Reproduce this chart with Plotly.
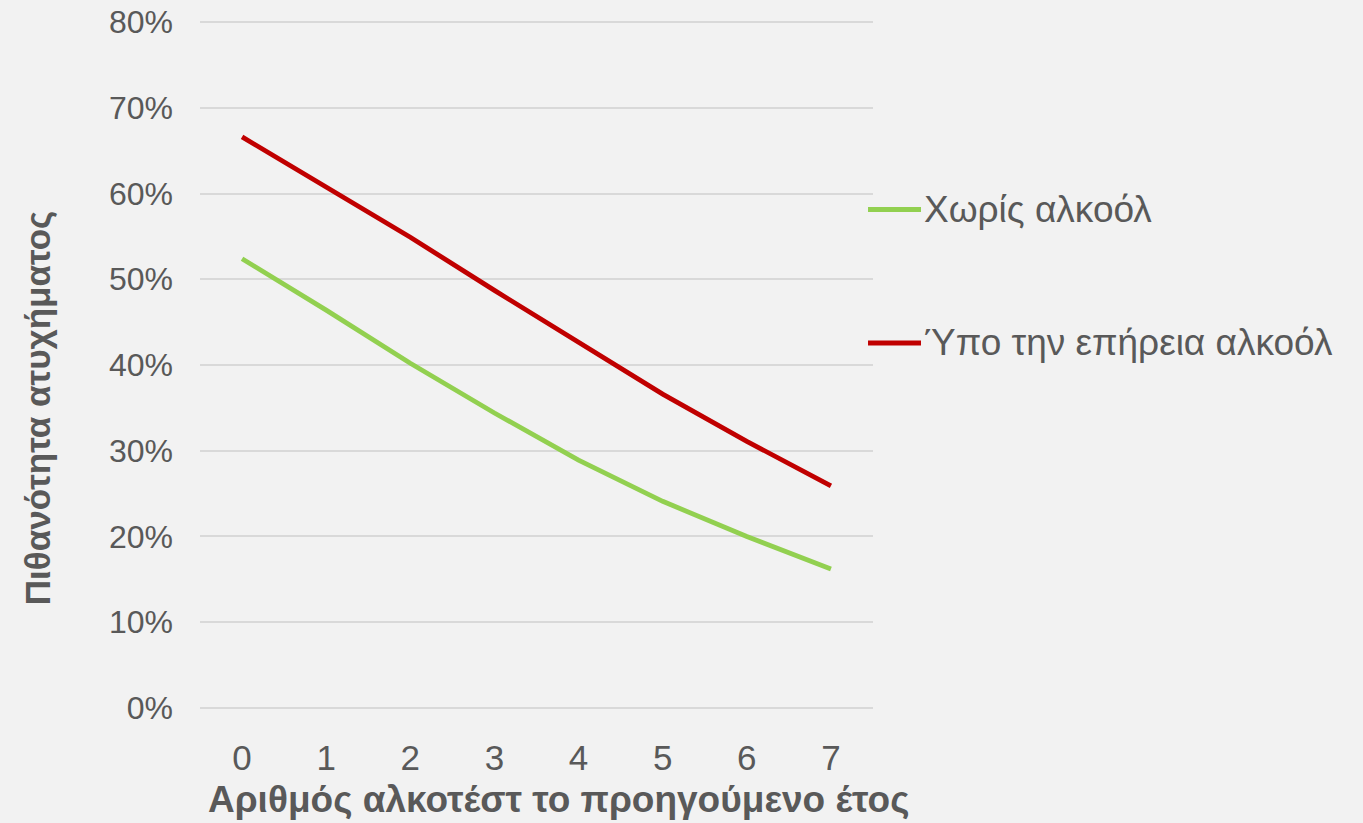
import plotly.graph_objects as go

# Number of breath tests in the previous year
tests = [0, 1, 2, 3, 4, 5, 6, 7]
tick_labels = ["0", "1", "2", "3", "4", "5", "6", "7"]

# Accident probability (fraction) for each group
no_alcohol = [0.524, 0.464, 0.402, 0.344, 0.289, 0.241, 0.200, 0.162]
under_influence = [0.666, 0.607, 0.549, 0.487, 0.427, 0.366, 0.311, 0.259]

series_names = ["Χωρίς αλκοόλ", "Ύπο την επήρεια αλκοόλ"]
series_colors = ["#92d050", "#c00000"]
y_ticks = [0, 0.1, 0.2, 0.3, 0.4, 0.5, 0.6, 0.7, 0.8]

x_title = "Αριθμός αλκοτέστ το προηγούμενο έτος"
y_title = "Πιθανότητα ατυχήματος"

FONT = "Liberation Sans, Arial, sans-serif"
TEXT = "#595959"

fig = go.Figure()
for name, vals, col in zip(series_names, [no_alcohol, under_influence], series_colors):
    fig.add_trace(go.Scatter(
        x=tests, y=vals, name=name, mode="lines",
        line=dict(color=col, width=4.8),
        showlegend=False,
    ))

# Legend drawn as line swatches with labels to the right of the plot
legend_y = [0.726, 0.532]
for name, col, ly in zip(series_names, series_colors, legend_y):
    fig.add_shape(type="line", xref="paper", yref="paper",
                  x0=0.9926, x1=1.0713, y0=ly, y1=ly,
                  line=dict(color=col, width=4.8))
    fig.add_annotation(xref="paper", yref="paper", x=1.073, y=ly,
                       text=name, showarrow=False, xanchor="left",
                       yanchor="middle",
                       font=dict(family=FONT, size=37, color=TEXT))

fig.add_annotation(xref="paper", yref="paper", x=0.533, y=-0.131,
                   text=f"<b>{x_title}</b>", showarrow=False,
                   xanchor="center", yanchor="middle",
                   font=dict(family=FONT, size=37, color=TEXT))
fig.add_annotation(xref="paper", yref="paper", x=-0.241, y=0.437,
                   text=f"<b>{y_title}</b>", showarrow=False, textangle=-90,
                   xanchor="center", yanchor="middle",
                   font=dict(family=FONT, size=35, color=TEXT))

fig.update_layout(
    width=1363, height=823,
    margin=dict(l=200, r=490, t=21, b=114, autoexpand=False),
    paper_bgcolor="#f2f2f2", plot_bgcolor="#f2f2f2",
    font=dict(family=FONT, color=TEXT),
    xaxis=dict(
        tickmode="array", tickvals=tests, ticktext=tick_labels,
        range=[-0.5, 7.5], showgrid=False, zeroline=False, showline=False,
        tickfont=dict(size=35, color=TEXT), ticks="", ticklabelstandoff=25,
        automargin=False,
    ),
    yaxis=dict(
        tickmode="array", tickvals=y_ticks,
        ticktext=[f"{int(round(v * 100))}%" for v in y_ticks],
        range=[-0.0012, 0.8012], showgrid=True, gridcolor="#d9d9d9",
        gridwidth=1.5, zeroline=False, showline=False,
        tickfont=dict(size=32, color=TEXT), ticks="", ticklabelstandoff=26,
        automargin=False,
    ),
)

fig.write_html("out.html")
